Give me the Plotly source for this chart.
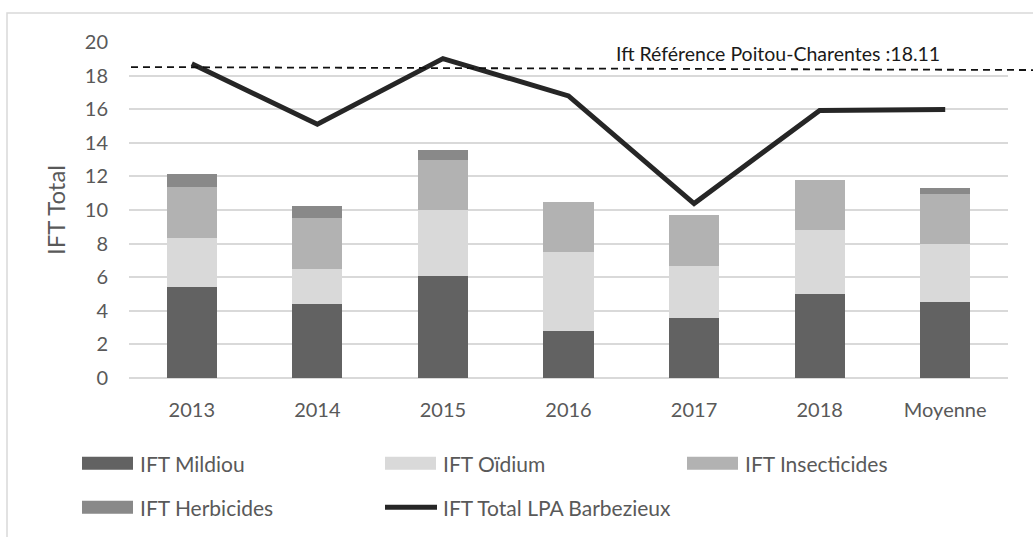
import plotly.graph_objects as go

# Données
annees = ['2013', '2014', '2015', '2016', '2017', '2018', 'Moyenne']
ift_mildiou = [5.40, 4.39, 6.05, 2.78, 3.57, 4.98, 4.52]
ift_oidium = [2.92, 2.10, 3.93, 4.70, 3.12, 3.81, 3.46]
ift_insecticides = [3.03, 3.02, 2.98, 3.00, 2.99, 2.97, 2.97]
ift_herbicides = [0.82, 0.71, 0.59, 0.0, 0.0, 0.0, 0.36]
ift_total_lpa = [18.71, 15.10, 19.01, 16.79, 10.38, 15.93, 15.98]

ift_reference = 18.11
ligne_reference = [18.51, 18.33]  # trait pointillé (légèrement incliné dans l'original)

noms = ['IFT Mildiou', 'IFT Oïdium', 'IFT Insecticides', 'IFT Herbicides', 'IFT Total LPA Barbezieux']
couleurs = ['#626262', '#d9d9d9', '#b2b2b2', '#898989', '#262626']

POLICE = 'Lato'
GRIS_TEXTE = '#595959'

# zone de tracé en pixels (fenêtre 1033x537)
G, D, H, B = 129, 1008, 41.7, 377.7


def px_x(x):
    return (x - G) / (D - G)


def px_y(y):
    return (B - y) / (B - H)


fig = go.Figure()
for nom, valeurs, couleur in zip(noms[:4], [ift_mildiou, ift_oidium, ift_insecticides, ift_herbicides], couleurs[:4]):
    fig.add_trace(go.Bar(
        x=annees,
        y=valeurs,
        name=nom,
        marker=dict(color=couleur, line=dict(width=0)),
        showlegend=False
    ))

fig.add_trace(go.Scatter(
    x=annees,
    y=ift_total_lpa,
    mode='lines',
    name=noms[4],
    line=dict(color=couleurs[4], width=5),
    showlegend=False
))

# cadre du graphique (coupé à droite et en bas comme l'original)
fig.add_shape(type='rect', xref='paper', yref='paper',
              x0=px_x(7), x1=px_x(1045), y0=px_y(12.7), y1=px_y(560),
              line=dict(color='#d9d9d9', width=1.5), fillcolor='rgba(0,0,0,0)', layer='below')

# ligne de référence Poitou-Charentes
fig.add_shape(type='line', xref='paper', yref='y',
              x0=px_x(131), x1=px_x(1040), y0=ligne_reference[0], y1=ligne_reference[1],
              line=dict(color='#111111', width=1.8, dash='7px,5px'))
fig.add_annotation(xref='paper', yref='paper', x=px_x(778), y=px_y(53),
                   xanchor='center', yanchor='middle',
                   text=f'Ift Référence Poitou-Charentes :{ift_reference}',
                   showarrow=False, font=dict(family=POLICE, size=19.5, color='#1a1a1a'))

# légende dessinée à la main (symboles larges comme dans Excel)
positions = [(82, 463), (385, 463), (687, 463), (82, 507), (385, 507)]
for i, (nom, couleur) in enumerate(zip(noms, couleurs)):
    x, y = positions[i]
    if i < 4:
        fig.add_shape(type='rect', xref='paper', yref='paper',
                      x0=px_x(x), x1=px_x(x + 51), y0=px_y(y - 6.5), y1=px_y(y + 6.5),
                      fillcolor=couleur, line=dict(width=0))
    else:
        fig.add_shape(type='line', xref='paper', yref='paper',
                      x0=px_x(x), x1=px_x(x + 52), y0=px_y(y), y1=px_y(y),
                      line=dict(color=couleur, width=5))
    fig.add_annotation(xref='paper', yref='paper', x=px_x(x + 56), y=px_y(y),
                       xanchor='left', yanchor='middle', text=nom, showarrow=False,
                       font=dict(family=POLICE, size=21, color=GRIS_TEXTE))

fig.update_layout(
    width=1033,
    height=537,
    margin=dict(l=G, r=1033 - D, t=H, b=537 - B),
    barmode='stack',
    bargap=0.6,
    plot_bgcolor='white',
    paper_bgcolor='white',
    font=dict(family=POLICE, size=20, color=GRIS_TEXTE),
    xaxis=dict(
        showgrid=False,
        ticks='',
        ticklabelstandoff=18,
        tickfont=dict(size=20, color=GRIS_TEXTE),
        showline=False
    ),
    yaxis=dict(
        range=[0, 20],
        dtick=2,
        showgrid=True,
        gridcolor='#d9d9d9',
        gridwidth=1.5,
        zeroline=True,
        zerolinecolor='#d9d9d9',
        zerolinewidth=1.5,
        ticks='',
        ticklabelstandoff=20,
        tickfont=dict(size=20, color=GRIS_TEXTE),
        title=dict(text='IFT Total', font=dict(size=24, color=GRIS_TEXTE), standoff=12)
    )
)

# la page n'a pas de marge autour du graphique
fig.write_html('out.html', config={'displayModeBar': False},
               post_script="document.body.style.margin='0';")
